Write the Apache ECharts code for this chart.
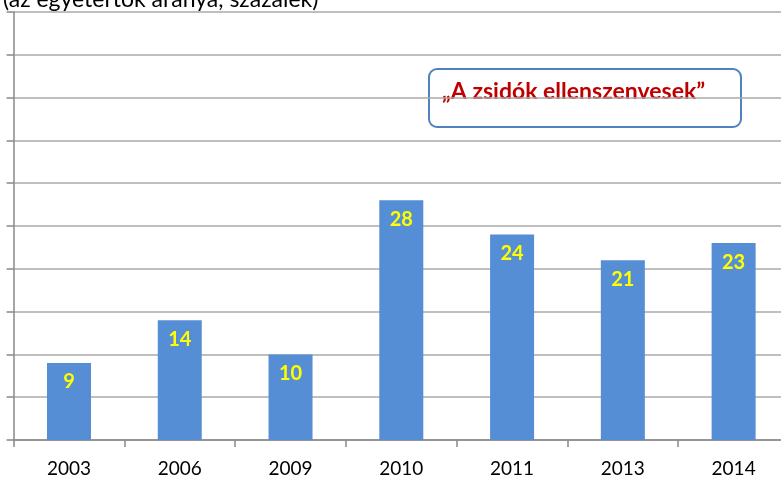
<!DOCTYPE html>
<html>
<head>
<meta charset="utf-8">
<script src="https://cdn.jsdelivr.net/npm/echarts@6/dist/echarts.min.js"></script>
<style>
  html, body { margin: 0; padding: 0; background: #fff; }
  #chart { width: 781px; height: 478px; }
</style>
</head>
<body>
<div id="chart"></div>
<script>
const years = ["2003", "2006", "2009", "2010", "2011", "2013", "2014"];
const values = [9, 14, 10, 28, 24, 21, 23];
const subtitle = "(az egyetértők aránya, százalék)";
const boxLabel = "\u201EA zsidók ellenszenvesek\u201D";

const chart = echarts.init(document.getElementById("chart"));
chart.setOption({
  animation: false,
  textStyle: { fontFamily: "Lato, 'Noto Sans', sans-serif" },
  title: {
    text: subtitle,
    left: -2,
    top: -17,
    textStyle: { fontSize: 23, fontWeight: "normal", color: "#000" }
  },
  grid: { left: 13.6, right: -8, top: 12, bottom: 38, outerBoundsMode: "none" },
  xAxis: {
    type: "category",
    data: years,
    axisLine: { lineStyle: { color: "#888", width: 1.5 } },
    axisTick: { show: true, length: 7, lineStyle: { color: "#888", width: 1.5 } },
    axisLabel: { color: "#000", fontSize: 19, margin: 19 }
  },
  yAxis: {
    type: "value",
    min: 0,
    max: 50,
    interval: 5,
    axisLine: { show: true, lineStyle: { color: "#888", width: 1.5 } },
    axisTick: { show: true, length: 7, lineStyle: { color: "#888", width: 1.5 } },
    axisLabel: { show: false },
    splitLine: { lineStyle: { color: "#aaa", width: 1.5 } }
  },
  series: [{
    type: "bar",
    data: values,
    barWidth: 44,
    itemStyle: { color: "#558ed5" },
    label: {
      show: true,
      position: "insideTop",
      distance: 9,
      color: "#ffff00",
      fontWeight: "bold",
      fontSize: 20
    }
  }],
  graphic: [{
    type: "group",
    left: 428,
    top: 68,
    children: [{
      type: "rect",
      shape: { x: 0, y: 0, width: 312, height: 58, r: 8 },
      style: { fill: "#fff", stroke: "#4f81bd", lineWidth: 2 }
    }, {
      type: "text",
      x: 13,
      y: 11,
      style: {
        text: boxLabel,
        fill: "#c00000",
        font: "bold 23px Lato, 'Noto Sans', sans-serif"
      }
    }]
  }]
});
</script>
</body>
</html>
